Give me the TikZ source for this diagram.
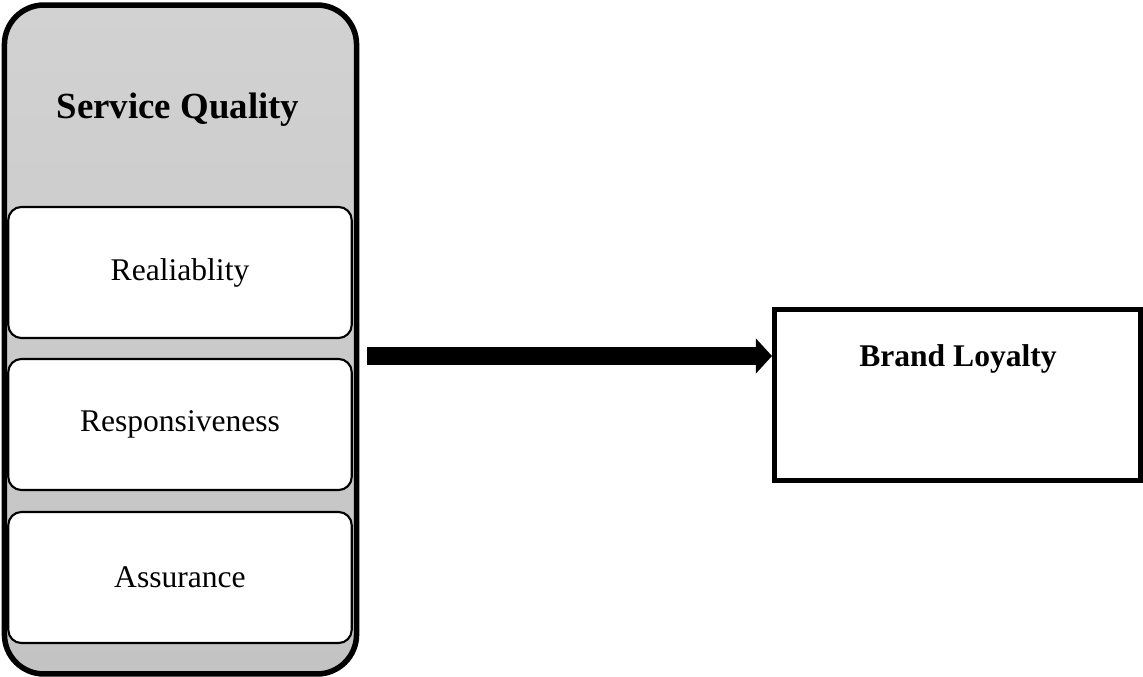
\documentclass[tikz,border=0pt]{standalone}
\usepackage{fontspec}
\setmainfont{Liberation Serif}
\usepackage{tikz}
\usetikzlibrary{arrows.meta, calc}

\definecolor{qtop}{RGB}{210,210,210}
\definecolor{qbot}{RGB}{195,195,195}

\begin{document}
\begin{tikzpicture}[x=0.38pt, y=-0.38pt,
    outerbox/.style={draw, line width=2.1pt, rounded corners=15pt, top color=qtop, bottom color=qbot,
                     minimum width=133.8pt, minimum height=254.2pt, inner sep=0pt},
    dimbox/.style={draw, line width=0.8pt, rounded corners=5pt, fill=white,
                   minimum width=130.5pt, minimum height=49.8pt, inner sep=0pt,
                   font=\fontsize{12}{14}\selectfont},
    resultbox/.style={draw, line width=1.9pt, fill=white,
                      minimum width=139.1pt, minimum height=65pt, inner sep=0pt},
    bigarrow/.style={line width=6.8pt, -{Triangle[width=13.3pt, length=6.1pt, line width=0pt]}}]
  \useasboundingbox (0,0) rectangle (1143,677);

  % left block
  \node[outerbox] (sq) at (180.5,339.5) {};
  \node[font=\fontsize{14}{17}\selectfont\bfseries] (sqtitle) at (178,110) {Service Quality};

  \node[dimbox] (rel) at (180,272.5) {Realiablity};
  \node[dimbox] (resp) at (180,424.5) {Responsiveness};
  \node[dimbox] (ass) at (180,577.5) {Assurance};

  % right block
  \node[resultbox] (bl) at (957.5,395) {};
  \node[font=\fontsize{12}{14}\selectfont\bfseries] (bltitle) at (958,359) {Brand Loyalty};

  \draw[bigarrow] ([xshift=3pt]sq.east |- 0,356) -- (bl.west |- 0,356);
\end{tikzpicture}
\end{document}
